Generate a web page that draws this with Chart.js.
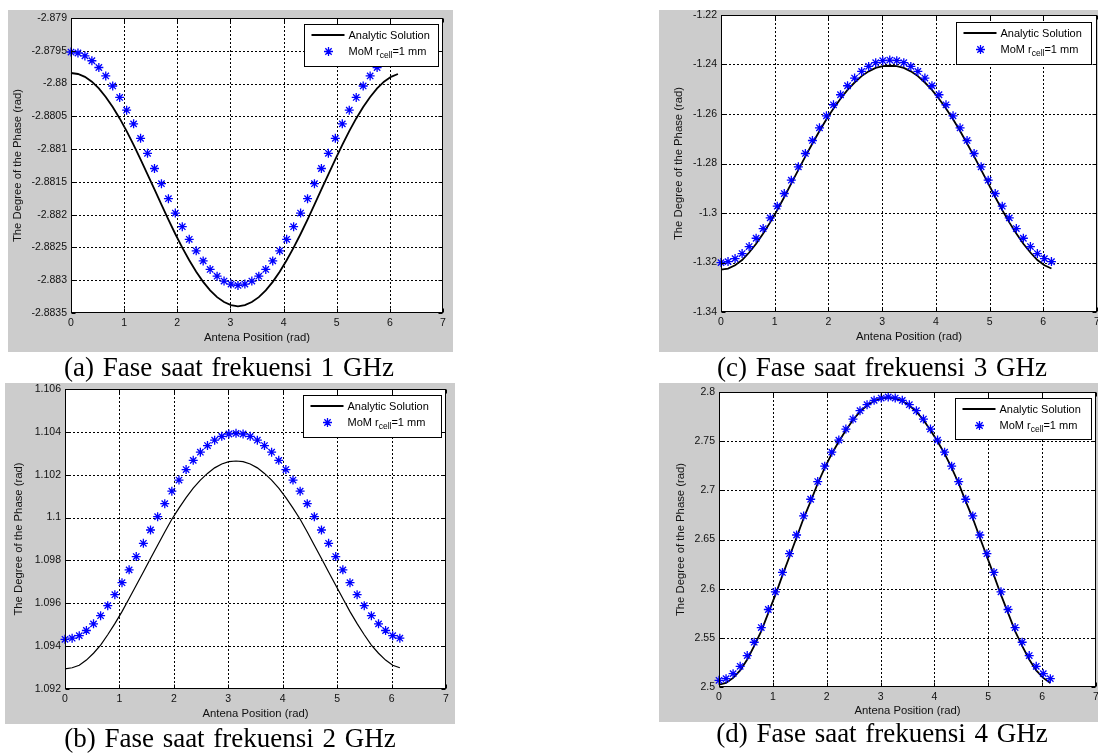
<!DOCTYPE html>
<html lang="id">
<head>
<meta charset="utf-8">
<title>Fase saat frekuensi 1-4 GHz</title>
<script src="https://cdn.jsdelivr.net/npm/chart.js@4.4.1/dist/chart.umd.min.js"></script>
<style>
  html, body { margin: 0; padding: 0; background: #fff; }
  body { position: relative; width: 1098px; height: 755px; overflow: hidden; }
  .panel-bg { position: absolute; background: #cccccc; }
  .plot { position: absolute; }
  .caption {
    position: absolute; width: 440px; text-align: center; white-space: nowrap;
    font-family: 'Liberation Serif', 'Times New Roman', serif;
    font-size: 27px; line-height: 27px; color: #000; word-spacing: 2px;
  }
</style>
</head>
<body>
<script>
// antenna positions on the ring (rad), same for every panel
const antennaPositions = [
  0, 0.131, 0.262, 0.393, 0.524, 0.654, 0.785, 0.916, 1.047, 1.178, 1.309, 1.440,
  1.571, 1.702, 1.833, 1.963, 2.094, 2.225, 2.356, 2.487, 2.618, 2.749, 2.880, 3.011,
  3.142, 3.272, 3.403, 3.534, 3.665, 3.796, 3.927, 4.058, 4.189, 4.320, 4.451, 4.581,
  4.712, 4.843, 4.974, 5.105, 5.236, 5.367, 5.498, 5.629, 5.760, 5.890, 6.021, 6.152
];
const xTickValues = [0, 1, 2, 3, 4, 5, 6, 7];

// (a) 1 GHz
const yTicks1GHz = [-2.8835, -2.883, -2.8825, -2.882, -2.8815, -2.881, -2.8805, -2.88, -2.8795, -2.879];
const analytic1GHz = [
  -2.879839, -2.879854, -2.879898, -2.879972, -2.880075, -2.880204, -2.880357, -2.880532,
  -2.880726, -2.880935, -2.881156, -2.881384, -2.881616, -2.881848, -2.882076, -2.882295,
  -2.882503, -2.882696, -2.882871, -2.883025, -2.883155, -2.883258, -2.883333, -2.883379,
  -2.883400, -2.883379, -2.883333, -2.883258, -2.883155, -2.883025, -2.882871, -2.882696,
  -2.882503, -2.882295, -2.882076, -2.881848, -2.881616, -2.881384, -2.881156, -2.880935,
  -2.880726, -2.880532, -2.880357, -2.880204, -2.880075, -2.879972, -2.879898, -2.879854
];
const mom1GHz = [
  -2.879519, -2.879534, -2.879578, -2.879652, -2.879755, -2.879884, -2.880037, -2.880212,
  -2.880406, -2.880615, -2.880836, -2.881064, -2.881296, -2.881528, -2.881756, -2.881975,
  -2.882183, -2.882376, -2.882551, -2.882705, -2.882835, -2.882938, -2.883013, -2.883059,
  -2.883080, -2.883059, -2.883013, -2.882938, -2.882835, -2.882705, -2.882551, -2.882376,
  -2.882183, -2.881975, -2.881756, -2.881528, -2.881296, -2.881064, -2.880836, -2.880615,
  -2.880406, -2.880212, -2.880037, -2.879884, -2.879755, -2.879652, -2.879578, -2.879534
];

// (b) 2 GHz
const yTicks2GHz = [1.092, 1.094, 1.096, 1.098, 1.1, 1.102, 1.104, 1.106];
const analytic2GHz = [
  1.09294, 1.09299, 1.09311, 1.09335, 1.09367, 1.09405, 1.09453, 1.09505,
  1.09561, 1.09622, 1.09684, 1.09746, 1.09809, 1.09871, 1.09933, 1.09992,
  1.10044, 1.10093, 1.10137, 1.10175, 1.10206, 1.10232, 1.10250, 1.10261,
  1.10264, 1.10261, 1.10250, 1.10232, 1.10206, 1.10175, 1.10137, 1.10093,
  1.10044, 1.09992, 1.09933, 1.09871, 1.09809, 1.09746, 1.09684, 1.09622,
  1.09561, 1.09505, 1.09453, 1.09405, 1.09367, 1.09335, 1.09311, 1.09299
];
const mom2GHz = [
  1.09432, 1.09437, 1.09449, 1.09473, 1.09504, 1.09542, 1.09589, 1.09640,
  1.09696, 1.09756, 1.09818, 1.09880, 1.09942, 1.10004, 1.10065, 1.10123,
  1.10175, 1.10224, 1.10267, 1.10305, 1.10336, 1.10361, 1.10379, 1.10390,
  1.10393, 1.10390, 1.10379, 1.10361, 1.10336, 1.10305, 1.10267, 1.10224,
  1.10175, 1.10123, 1.10065, 1.10004, 1.09942, 1.09880, 1.09818, 1.09756,
  1.09696, 1.09640, 1.09589, 1.09542, 1.09504, 1.09473, 1.09449, 1.09437
];

// (c) 3 GHz
const yTicks3GHz = [-1.34, -1.32, -1.3, -1.28, -1.26, -1.24, -1.22];
const analytic3GHz = [
  -1.32288, -1.32244, -1.32113, -1.31900, -1.31597, -1.31240, -1.30829, -1.30378,
  -1.29886, -1.29353, -1.28804, -1.28255, -1.27715, -1.27190, -1.26687, -1.26212,
  -1.25777, -1.25382, -1.25028, -1.24728, -1.24469, -1.24276, -1.24138, -1.24067,
  -1.24050, -1.24067, -1.24138, -1.24276, -1.24469, -1.24728, -1.25028, -1.25382,
  -1.25777, -1.26212, -1.26687, -1.27190, -1.27715, -1.28255, -1.28804, -1.29353,
  -1.29886, -1.30378, -1.30829, -1.31240, -1.31597, -1.31900, -1.32113, -1.32244
];
const mom3GHz = [
  -1.32004, -1.31964, -1.31843, -1.31640, -1.31357, -1.31020, -1.30629, -1.30198,
  -1.29726, -1.29213, -1.28674, -1.28135, -1.27595, -1.27070, -1.26557, -1.26072,
  -1.25627, -1.25222, -1.24858, -1.24548, -1.24279, -1.24076, -1.23928, -1.23847,
  -1.23820, -1.23847, -1.23928, -1.24076, -1.24279, -1.24548, -1.24858, -1.25222,
  -1.25627, -1.26072, -1.26557, -1.27070, -1.27595, -1.28135, -1.28674, -1.29213,
  -1.29726, -1.30198, -1.30629, -1.31020, -1.31357, -1.31640, -1.31843, -1.31964
];

// (d) 4 GHz
const yTicks4GHz = [2.5, 2.55, 2.6, 2.65, 2.7, 2.75, 2.8];
const analytic4GHz = [
  2.50240, 2.50409, 2.50929, 2.51687, 2.52794, 2.54173, 2.55688, 2.57542,
  2.59363, 2.61353, 2.63276, 2.65199, 2.67155, 2.68874, 2.70695, 2.72278,
  2.73724, 2.74968, 2.76109, 2.77148, 2.78007, 2.78629, 2.79081, 2.79328,
  2.79440, 2.79328, 2.79081, 2.78629, 2.78007, 2.77148, 2.76109, 2.74968,
  2.73724, 2.72278, 2.70695, 2.68874, 2.67155, 2.65199, 2.63276, 2.61353,
  2.59363, 2.57542, 2.55688, 2.54173, 2.52794, 2.51687, 2.50929, 2.50409
];
const mom4GHz = [
  2.50680, 2.50849, 2.51359, 2.52107, 2.53194, 2.54553, 2.56048, 2.57882,
  2.59683, 2.61653, 2.63556, 2.65459, 2.67395, 2.69094, 2.70895, 2.72458,
  2.73884, 2.75108, 2.76229, 2.77248, 2.78097, 2.78709, 2.79151, 2.79388,
  2.79490, 2.79388, 2.79151, 2.78709, 2.78097, 2.77248, 2.76229, 2.75108,
  2.73884, 2.72458, 2.70895, 2.69094, 2.67395, 2.65459, 2.63556, 2.61653,
  2.59683, 2.57882, 2.56048, 2.54553, 2.53194, 2.52107, 2.51359, 2.50849
];

const analyticName = 'Analytic Solution';
const momName = ['MoM r', 'cell', '=1 mm']; // r with subscript "cell"
const xAxisTitle = 'Antena Position (rad)';
const yAxisTitle = 'The Degree of the Phase (rad)';
const captions = [
  '(a) Fase saat frekuensi 1 GHz',
  '(b) Fase saat frekuensi 2 GHz',
  '(c) Fase saat frekuensi 3 GHz',
  '(d) Fase saat frekuensi 4 GHz'
];

const FAMILY = "'Liberation Sans', Arial, sans-serif";
const TICK_SIZE = 10.5;
const TITLE_SIZE = 11.3;
const LEGEND_SIZE = 11;
const LH = TITLE_SIZE * 1.2;
// margins of each canvas around its plot box
const ML = 70, MT = 20, MR = 20, MB = 45;

// bg = [left, top, width, height], plot = [left, top, right, bottom] in page px
const panels = [
  { ticks: yTicks1GHz, analytic: analytic1GHz, mom: mom1GHz, caption: captions[0],
    bg: [8, 10, 445, 342], plot: [71, 18, 443, 313], yTitleX: 18.3, xTitleY: 337.7,
    legend: { right: 5, top: 6, width: 134, height: 42 }, lineWidth: 1.8,
    captionX: 229, captionBase: 376.5 },
  { ticks: yTicks2GHz, analytic: analytic2GHz, mom: mom2GHz, caption: captions[1],
    bg: [5, 383, 450, 341], plot: [65, 389, 446, 689], yTitleX: 19, xTitleY: 714,
    legend: { right: 5, top: 6, width: 138, height: 42 }, lineWidth: 1.2,
    captionX: 230, captionBase: 748 },
  { ticks: yTicks3GHz, analytic: analytic3GHz, mom: mom3GHz, caption: captions[2],
    bg: [659, 10, 439, 342], plot: [721, 15, 1097, 312], yTitleX: 679.3, xTitleY: 336.7,
    legend: { right: 6, top: 7, width: 135, height: 42 }, lineWidth: 1.8,
    captionX: 882, captionBase: 376.5 },
  { ticks: yTicks4GHz, analytic: analytic4GHz, mom: mom4GHz, caption: captions[3],
    bg: [659, 383, 439, 339], plot: [719, 392, 1096, 687], yTitleX: 681, xTitleY: 710.7,
    legend: { right: 5, top: 6, width: 136, height: 41 }, lineWidth: 1.8,
    captionX: 882, captionBase: 743 }
];

function drawStar(ctx, x, y, r) {
  const d = r * Math.SQRT1_2;
  ctx.beginPath();
  ctx.moveTo(x - r, y); ctx.lineTo(x + r, y);
  ctx.moveTo(x, y - r); ctx.lineTo(x, y + r);
  ctx.moveTo(x - d, y - d); ctx.lineTo(x + d, y + d);
  ctx.moveTo(x - d, y + d); ctx.lineTo(x + d, y - d);
  ctx.stroke();
}

// white axes box, dotted grid, black frame with inward ticks (MATLAB look)
const matlabAxes = {
  id: 'matlabAxes',
  beforeDraw(chart) {
    const { ctx, chartArea: a } = chart;
    ctx.save();
    ctx.fillStyle = '#fff';
    ctx.fillRect(a.left, a.top, a.right - a.left, a.bottom - a.top);
    ctx.restore();
  },
  beforeDatasetsDraw(chart) {
    const { ctx, chartArea: a, scales } = chart;
    ctx.save();
    ctx.strokeStyle = '#000';
    ctx.lineWidth = 1;
    ctx.setLineDash([2, 2]);
    ctx.beginPath();
    scales.x.ticks.forEach((t) => {
      const px = Math.round(scales.x.getPixelForValue(t.value)) + 0.5;
      if (px > a.left + 2 && px < a.right - 2) {
        ctx.moveTo(px, a.top); ctx.lineTo(px, a.bottom);
      }
    });
    scales.y.ticks.forEach((t) => {
      const py = Math.round(scales.y.getPixelForValue(t.value)) + 0.5;
      if (py > a.top + 2 && py < a.bottom - 2) {
        ctx.moveTo(a.left, py); ctx.lineTo(a.right, py);
      }
    });
    ctx.stroke();
    ctx.restore();
  },
  afterDatasetsDraw(chart) {
    const { ctx, chartArea: a, scales } = chart;
    const l = Math.round(a.left) + 0.5, r = Math.round(a.right) - 0.5;
    const t = Math.round(a.top) + 0.5, b = Math.round(a.bottom) - 0.5;
    ctx.save();
    ctx.strokeStyle = '#000';
    ctx.lineWidth = 1;
    ctx.strokeRect(l, t, r - l, b - t);
    ctx.beginPath();
    scales.x.ticks.forEach((tk) => {
      const px = Math.round(scales.x.getPixelForValue(tk.value)) + 0.5;
      ctx.moveTo(px, b); ctx.lineTo(px, b - 4);
      ctx.moveTo(px, t); ctx.lineTo(px, t + 4);
    });
    scales.y.ticks.forEach((tk) => {
      const py = Math.round(scales.y.getPixelForValue(tk.value)) + 0.5;
      ctx.moveTo(l, py); ctx.lineTo(l + 4, py);
      ctx.moveTo(r, py); ctx.lineTo(r - 4, py);
    });
    ctx.stroke();
    ctx.restore();
  }
};

// boxed legend in the upper right corner, drawn over the data
const matlabLegend = {
  id: 'matlabLegend',
  afterDraw(chart, args, opts) {
    const { ctx, chartArea: a } = chart;
    const x = Math.round(a.right - opts.right - opts.width) + 0.5;
    const y = Math.round(a.top + opts.top) + 0.5;
    ctx.save();
    ctx.fillStyle = '#fff';
    ctx.fillRect(x, y, opts.width, opts.height);
    ctx.strokeStyle = '#000';
    ctx.lineWidth = 1;
    ctx.strokeRect(x, y, opts.width, opts.height);

    const row1 = y + 10.5;
    const row2 = y + 27;
    ctx.lineWidth = 2;
    ctx.beginPath();
    ctx.moveTo(x + 7, row1); ctx.lineTo(x + 40, row1);
    ctx.stroke();

    ctx.strokeStyle = '#0000ff';
    ctx.lineWidth = 1.3;
    drawStar(ctx, x + 24, row2, 4.5);

    ctx.fillStyle = '#000';
    ctx.textBaseline = 'middle';
    ctx.font = `${LEGEND_SIZE}px ${FAMILY}`;
    ctx.fillText(analyticName, x + 44, row1 + 0.5);
    let tx = x + 44;
    ctx.fillText(momName[0], tx, row2);
    tx += ctx.measureText(momName[0]).width;
    ctx.font = `8.5px ${FAMILY}`;
    ctx.fillText(momName[1], tx, row2 + 4);
    tx += ctx.measureText(momName[1]).width;
    ctx.font = `${LEGEND_SIZE}px ${FAMILY}`;
    ctx.fillText(momName[2], tx, row2);
    ctx.restore();
  }
};

panels.forEach((p) => {
  const bg = document.createElement('div');
  bg.className = 'panel-bg';
  bg.style.left = p.bg[0] + 'px';
  bg.style.top = p.bg[1] + 'px';
  bg.style.width = p.bg[2] + 'px';
  bg.style.height = p.bg[3] + 'px';
  document.body.appendChild(bg);

  const [pl, pt, pr, pb] = p.plot;
  const canvas = document.createElement('canvas');
  canvas.className = 'plot';
  const w = pr - pl + ML + MR;
  const h = pb - pt + MT + MB;
  canvas.width = w;
  canvas.height = h;
  canvas.style.width = w + 'px';
  canvas.style.height = h + 'px';
  canvas.style.left = (pl - ML) + 'px';
  canvas.style.top = (pt - MT) + 'px';
  document.body.appendChild(canvas);

  const cap = document.createElement('div');
  cap.className = 'caption';
  cap.textContent = p.caption;
  cap.style.left = (p.captionX - 220) + 'px';
  cap.style.top = (p.captionBase - 22.6) + 'px';
  document.body.appendChild(cap);

  const tickFont = { family: FAMILY, size: TICK_SIZE };
  const titleFont = { family: FAMILY, size: TITLE_SIZE };
  const yTitlePad = p.yTitleX - (pl - ML) - LH / 2;
  const xTitlePad = (pb + MB) - p.xTitleY - LH / 2;

  new Chart(canvas.getContext('2d'), {
    type: 'scatter',
    data: {
      datasets: [
        {
          label: momName.join(''),
          data: antennaPositions.map((x, i) => ({ x, y: p.mom[i] })),
          showLine: false,
          pointStyle: 'star',
          pointRadius: 4.5,
          pointHoverRadius: 4.5,
          pointBorderWidth: 1.3,
          borderColor: '#0000ff',
          backgroundColor: '#0000ff',
          clip: false,
          order: 0
        },
        {
          label: analyticName,
          data: antennaPositions.map((x, i) => ({ x, y: p.analytic[i] })),
          showLine: true,
          borderColor: '#000',
          borderWidth: p.lineWidth,
          pointRadius: 0,
          pointHoverRadius: 0,
          tension: 0,
          clip: false,
          order: 1
        }
      ]
    },
    options: {
      responsive: false,
      animation: false,
      events: [],
      layout: { padding: { left: 0, top: MT, right: MR, bottom: 0 } },
      plugins: {
        legend: { display: false },
        tooltip: { enabled: false },
        matlabLegend: p.legend
      },
      scales: {
        x: {
          type: 'linear',
          min: xTickValues[0],
          max: xTickValues[xTickValues.length - 1],
          afterBuildTicks: (s) => { s.ticks = xTickValues.map((v) => ({ value: v })); },
          afterFit: (s) => { s.height = MB; },
          grid: { display: false, drawTicks: false },
          border: { display: false },
          ticks: { color: '#111', font: tickFont, padding: 4, maxRotation: 0, autoSkip: false,
                   callback: (v) => String(v) },
          title: { display: true, text: xAxisTitle, color: '#111', font: titleFont,
                   padding: { top: 0, bottom: xTitlePad } }
        },
        y: {
          type: 'linear',
          min: p.ticks[0],
          max: p.ticks[p.ticks.length - 1],
          afterBuildTicks: (s) => { s.ticks = p.ticks.map((v) => ({ value: v })); },
          afterFit: (s) => { s.width = ML; },
          grid: { display: false, drawTicks: false },
          border: { display: false },
          ticks: { color: '#111', font: tickFont, padding: 4, autoSkip: false,
                   callback: (v) => String(v) },
          title: { display: true, text: yAxisTitle, color: '#111', font: titleFont,
                   padding: { top: yTitlePad, bottom: 0 } }
        }
      }
    },
    plugins: [matlabAxes, matlabLegend]
  });
});
</script>
</body>
</html>
